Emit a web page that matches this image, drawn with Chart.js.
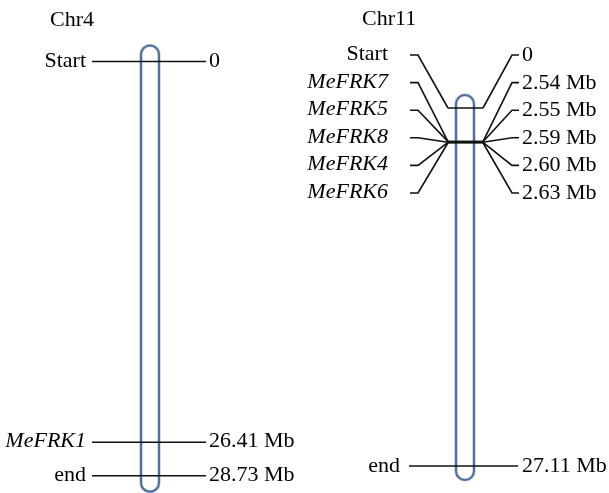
<!DOCTYPE html>
<html>
<head>
<meta charset="utf-8">
<title>MeFRK chromosome map</title>
<script src="https://cdn.jsdelivr.net/npm/chart.js@4"></script>
<style>
  html, body { margin:0; padding:0; background:#fff; }
  #wrap { width:609px; height:493px; position:relative; }
</style>
</head>
<body>
<div id="wrap"><canvas id="chart"></canvas></div>
<script>
// chromosome map of the MeFRK genes, drawn on hidden linear scales

// data
const chromosomes = ['Chr4', 'Chr11'];
const chrLengths = [28.73, 27.11];          // Mb
const chr4Genes = ['MeFRK1'];
const chr4Pos = [26.41];                    // Mb
const chr11Genes = ['MeFRK7', 'MeFRK5', 'MeFRK8', 'MeFRK4', 'MeFRK6'];
const chr11Pos = [2.54, 2.55, 2.59, 2.60, 2.63];  // Mb
const startLabel = 'Start';
const endLabel = 'end';

function mbLabel(v){ return v === 0 ? '0' : v.toFixed(2) + ' Mb'; }

// layout (pixels)
const W = 609, H = 493;
const FONT = '22px "Liberation Serif", "Times New Roman", serif';
const FONT_IT = 'italic 22px "Liberation Serif", "Times New Roman", serif';
const BLUE = '#4f6f9f';
// where 0 and the chromosome end sit on each column
const anchors = { y4: [61.5, 475.7], y11: [108, 466] };
const col4 = { cx: 150, lineL: 92, lineR: 206, labL: 86, labR: 209, title: [50, 26] };
const col11 = { cx: 465, stubL0: 410, stubL1: 418, barL: 448, barR: 483, stubR1: 512, stubR0: 519,
                labL: 388, labR: 522, endL: 409, endR: 518, endLab: 400, title: [362, 25],
                slot0: 55, slotGap: 27.6 };
const chrW = 18, chrPad = 14;

function scaleFor(id, len){
  const [p0, p1] = anchors[id];
  const k = (p1 - p0) / len;
  const min = -p0 / k;
  return { type:'linear', display:false, reverse:true, min: min, max: min + H / k };
}

// horizontal marker lines, x from layout, y from the data
function hLine(x0, x1, v, axis){
  return { data:[{x:x0, y:v}, {x:x1, y:v}], yAxisID: axis, showLine:true,
           borderColor:'#111', borderWidth:1.6, pointRadius:0, clip:false };
}
const datasets = [];
[0].concat(chr4Pos, [chrLengths[0]]).forEach(v => datasets.push(hLine(col4.lineL, col4.lineR, v, 'y4')));
datasets.push(hLine(col11.barL, col11.barR, 0, 'y11'));
chr11Pos.forEach(v => datasets.push(hLine(col11.barL, col11.barR, v, 'y11')));
datasets.push(hLine(col11.endL, col11.endR, chrLengths[1], 'y11'));

function chromBody(ctx, cx, yTop, yBot){
  const x = cx - chrW / 2, r = chrW / 2;
  ctx.save();
  ctx.beginPath();
  ctx.roundRect(x, yTop, chrW, yBot - yTop, r);
  ctx.fillStyle = '#fff';
  ctx.fill();
  ctx.lineWidth = 3.2;
  ctx.strokeStyle = '#b4c4dc';
  ctx.stroke();
  ctx.lineWidth = 2;
  ctx.strokeStyle = BLUE;
  ctx.stroke();
  ctx.restore();
}

function text(ctx, s, x, y, align, italic){
  ctx.font = italic ? FONT_IT : FONT;
  ctx.textAlign = align;
  ctx.fillText(s, x, y);
}

const mapPlugin = {
  id: 'chromMap',
  beforeDatasetsDraw(chart){
    const {ctx, scales} = chart;
    chromBody(ctx, col4.cx, scales.y4.getPixelForValue(0) - chrPad - 2, scales.y4.getPixelForValue(chrLengths[0]) + chrPad + 2);
    chromBody(ctx, col11.cx, scales.y11.getPixelForValue(0) - chrPad + 1, scales.y11.getPixelForValue(chrLengths[1]) + chrPad);
  },
  afterDatasetsDraw(chart){
    const {ctx, scales} = chart;
    const y4 = scales.y4, y11 = scales.y11;
    ctx.save();
    ctx.fillStyle = '#000';
    ctx.textBaseline = 'alphabetic';

    // Chr4 column
    text(ctx, chromosomes[0], col4.title[0], col4.title[1], 'left');
    const m4 = [[startLabel, 0, false]].concat(chr4Genes.map((g, i) => [g, chr4Pos[i], true]), [[endLabel, chrLengths[0], false]]);
    m4.forEach(([name, v, it]) => {
      const y = y4.getPixelForValue(v);
      text(ctx, name, col4.labL, y + 5, 'right', it);
      text(ctx, mbLabel(v), col4.labR, y + 5, 'left');
    });

    // Chr11 column: fanned connectors from label slots to positions
    text(ctx, chromosomes[1], col11.title[0], col11.title[1], 'left');
    const m11 = [[startLabel, 0, false]].concat(chr11Genes.map((g, i) => [g, chr11Pos[i], true]));
    ctx.strokeStyle = '#111';
    ctx.lineWidth = 1.6;
    m11.forEach(([name, v, it], i) => {
      const s = col11.slot0 + i * col11.slotGap;
      const y = y11.getPixelForValue(v);
      ctx.beginPath();
      ctx.moveTo(col11.stubL0, s);
      ctx.lineTo(col11.stubL1, s);
      ctx.lineTo(col11.barL, y);
      ctx.moveTo(col11.barR, y);
      ctx.lineTo(col11.stubR1, s);
      ctx.lineTo(col11.stubR0, s);
      ctx.stroke();
      text(ctx, name, col11.labL, s + 5, 'right', it);
      text(ctx, mbLabel(v), col11.labR, s + 6, 'left');
    });
    const ye = y11.getPixelForValue(chrLengths[1]);
    text(ctx, endLabel, col11.endLab, ye + 6, 'right');
    text(ctx, mbLabel(chrLengths[1]), col11.labR, ye + 6, 'left');
    ctx.restore();
  }
};

new Chart(document.getElementById('chart').getContext('2d'), {
  type: 'scatter',
  data: { datasets: datasets },
  options: {
    responsive: true,
    maintainAspectRatio: false,
    animation: false,
    layout: { padding: 0 },
    plugins: { legend: { display:false }, tooltip: { enabled:false } },
    scales: {
      x: { type:'linear', display:false, min:0, max:W },
      y4: scaleFor('y4', chrLengths[0]),
      y11: scaleFor('y11', chrLengths[1])
    }
  },
  plugins: [mapPlugin]
});
</script>
</body>
</html>
